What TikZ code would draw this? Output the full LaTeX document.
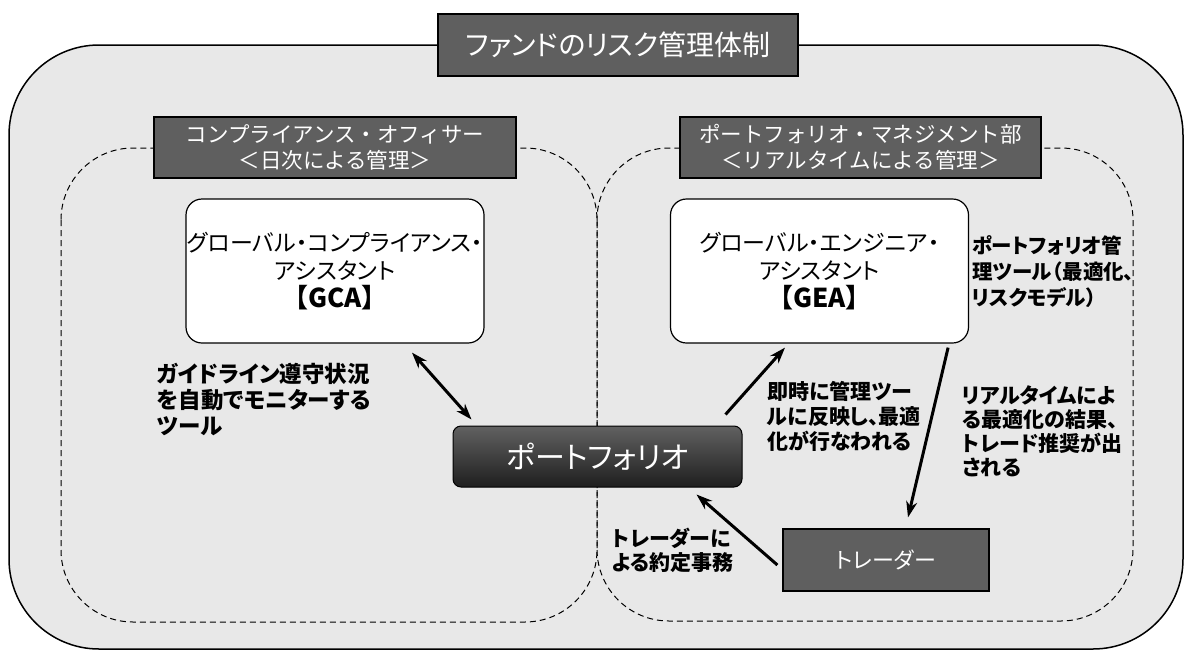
\documentclass[tikz,border=0pt]{standalone}
\usepackage{fontspec}
\newfontfamily\jp[RawFeature=+palt]{Noto Sans CJK JP}
\newfontfamily\jpm{Noto Sans CJK JP}
\usetikzlibrary{arrows.meta,calc}
\definecolor{bgfill}{HTML}{E8E8E8}
\definecolor{darkbox}{HTML}{5F5F5F}
\begin{document}
\begin{tikzpicture}[x=1pt,y=-1pt,
  darklabel/.style={draw=black, line width=1.5pt, fill=darkbox, text=white, inner sep=0pt, align=center},
  whitebox/.style={draw=black, line width=1.2pt, fill=white, rounded corners=16pt, minimum width=298pt, minimum height=144pt, align=center, inner sep=0pt, font=\jp\fontsize{23}{28}\selectfont},
  region/.style={draw=black, dash pattern=on 6pt off 4pt, line width=1pt, rounded corners=72pt},
  note/.style={anchor=north west, inner sep=0pt, align=left, font=\jp\bfseries\fontsize{21}{25}\selectfont},
  conn/.style={line width=3pt, -{Stealth[length=16pt,width=11pt,inset=5pt]}},
  dconn/.style={line width=3pt, {Stealth[length=16pt,width=11pt,inset=5pt]}-{Stealth[length=16pt,width=11pt,inset=5pt]}},
]
\useasboundingbox (0,0) rectangle (1184,651);
% outer frame
\draw[fill=bgfill, line width=1.5pt, rounded corners=90pt] (9,45) rectangle (1183,649);
% dashed regions
\draw[region] (61,148) rectangle (597,622);
\draw[region] (597,148) rectangle (1133,621);
% title and section labels
\node[darklabel, minimum width=360pt, minimum height=62pt, font=\jp\fontsize{28}{30}\selectfont] (title) at (618,45) {ファンドのリスク管理体制};
\node[darklabel, minimum width=362pt, minimum height=61pt, font=\jpm\fontsize{21.5}{26}\selectfont] (lab1) at (335,147.5) {コンプライアンス・オフィサー\\＜日次による管理＞};
\node[darklabel, minimum width=361pt, minimum height=61pt, font=\jpm\fontsize{21.5}{26}\selectfont] (lab2) at (860.5,147.5) {ポートフォリオ・マネジメント部\\＜リアルタイムによる管理＞};
% main boxes
\node[whitebox] (gca) at (335,271) {グローバル・コンプライアンス・\\アシスタント\\{\bfseries\fontsize{26}{28}\selectfont 【GCA】}};
\node[whitebox] (gea) at (819.5,271) {グローバル・エンジニア・\\アシスタント\\{\bfseries\fontsize{26}{28}\selectfont 【GEA】}};
\node[draw=black, line width=1pt, rounded corners=8pt, minimum width=289pt, minimum height=61pt, top color=black!62, middle color=black!32, bottom color=black!88, text=white, font=\jp\fontsize{30}{32}\selectfont] (pf) at (597.5,456.5) {ポートフォリオ};
\node[darklabel, line width=1.2pt, minimum width=206pt, minimum height=62pt, font=\jp\fontsize{22}{24}\selectfont] (trader) at (886,560) {トレーダー};
% connector end points
\coordinate (a1s) at ($(gca.south)+(77,9)$);
\coordinate (a1e) at ($(pf.north west)+(19,-6)$);
\coordinate (a2s) at ($(pf.north east)+(-17,-11)$);
\coordinate (a2e) at ($(gea.south)+(-34.5,4)$);
\coordinate (a3s) at ($(gea.south east)+(-21,4)$);
\coordinate (a3e) at ($(trader.north)+(22,-11)$);
\coordinate (a4s) at ($(trader.west)+(-5,5)$);
\coordinate (a4e) at ($(pf.south east)+(-46,7)$);
\draw[dconn] (a1s) -- (a1e);
\draw[conn] (a2s) -- (a2e);
\draw[conn] (a3s) -- (a3e);
\draw[conn] (a4s) -- (a4e);
% notes
\node[note, font=\jp\bfseries\fontsize{22.5}{26}\selectfont] (n1) at (157,363) {ガイドライン遵守状況\\を自動でモニターする\\ツール};
\node[note] (n2) at (767,381) {即時に管理ツー\\ルに反映し、最適\\化が行なわれる};
\node[note, font=\jp\bfseries\fontsize{20.5}{26}\selectfont] (n3) at (972,235) {ポートフォリオ管\\理ツール（最適化、\\リスクモデル）};
\node[note, font=\jp\bfseries\fontsize{21}{24}\selectfont] (n4) at (962,385) {リアルタイムによ\\る最適化の結果、\\トレード推奨が出\\される};
\node[note, font=\jp\bfseries\fontsize{21}{23.5}\selectfont] (n5) at (612,528) {トレーダーに\\よる約定事務};
\end{tikzpicture}
\end{document}
